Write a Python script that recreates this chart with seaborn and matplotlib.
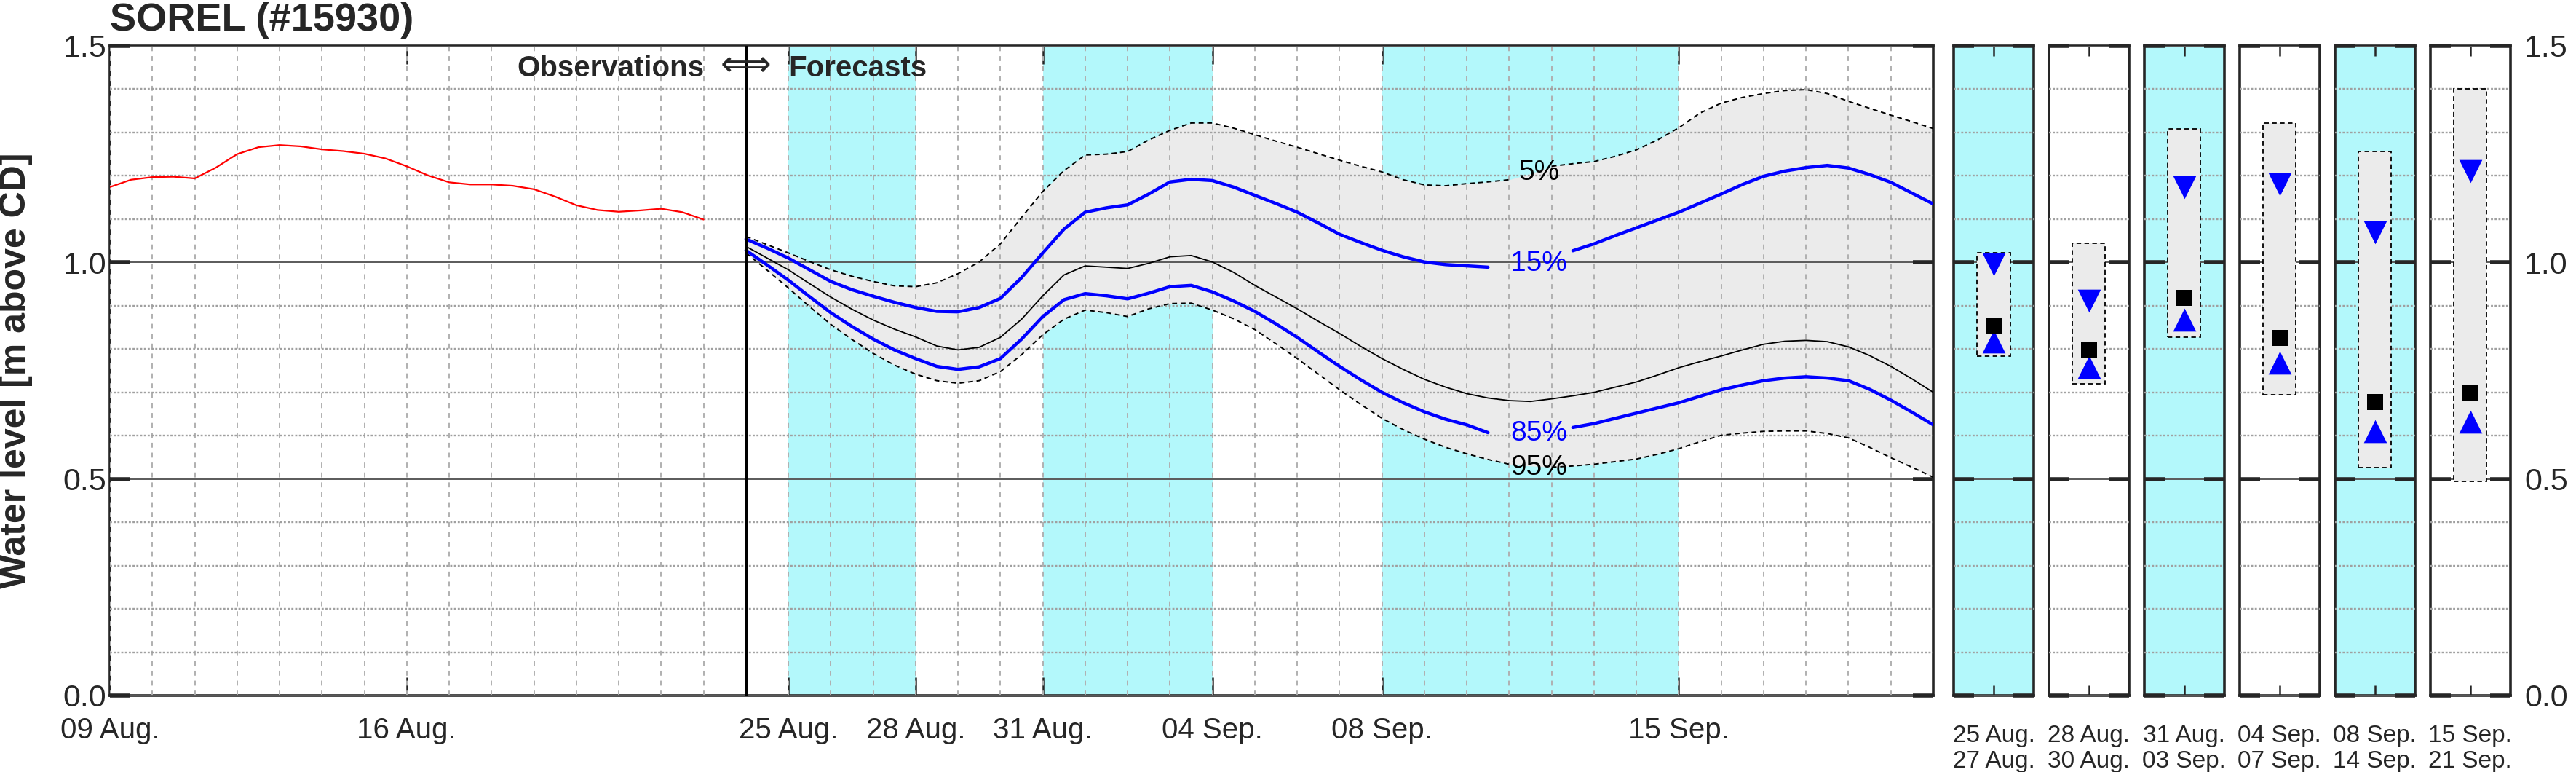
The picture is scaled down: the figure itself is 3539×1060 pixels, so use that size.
import numpy as np
import matplotlib
matplotlib.use("Agg")
import matplotlib.pyplot as plt
import seaborn as sns

# Station SOREL (#15930) - water level observations and ensemble forecast
# x axis in days since 09 Aug.

# Observations (every half day, 09 Aug. -> 23 Aug.)
obs_days = np.arange(0, 14.5, 0.5)
obs_level = [1.174, 1.191, 1.197, 1.198, 1.194, 1.219, 1.250, 1.266, 1.271, 1.268,
             1.261, 1.257, 1.251, 1.240, 1.222, 1.201, 1.185, 1.180, 1.180, 1.177,
             1.169, 1.152, 1.132, 1.121, 1.117, 1.120, 1.124, 1.116, 1.099]

# Forecast percentiles (every half day, 24 Aug. -> 21 Sep.)
fc_days = np.arange(15, 43.5, 0.5)
q05 = [1.060, 1.041, 1.022, 1.002, 0.983, 0.968, 0.956, 0.946, 0.944, 0.953,
       0.974, 1.001, 1.043, 1.104, 1.164, 1.212, 1.248, 1.250, 1.256, 1.283,
       1.305, 1.322, 1.322, 1.310, 1.295, 1.280, 1.266, 1.251, 1.236, 1.222,
       1.209, 1.191, 1.179, 1.177, 1.182, 1.186, 1.191, 1.205, 1.222, 1.228,
       1.233, 1.245, 1.260, 1.283, 1.311, 1.345, 1.368, 1.381, 1.390, 1.397,
       1.399, 1.390, 1.372, 1.356, 1.340, 1.325, 1.309]
q15 = [1.054, 1.033, 1.010, 0.983, 0.956, 0.937, 0.922, 0.908, 0.896, 0.887,
       0.886, 0.896, 0.917, 0.965, 1.022, 1.077, 1.116, 1.126, 1.133, 1.158,
       1.186, 1.192, 1.189, 1.174, 1.155, 1.136, 1.116, 1.091, 1.065, 1.046,
       1.028, 1.013, 1.001, 0.995, 0.992, 0.989, np.nan, np.nan, np.nan, 1.027,
       1.043, 1.062, 1.080, 1.098, 1.116, 1.137, 1.158, 1.180, 1.199, 1.211,
       1.219, 1.224, 1.218, 1.203, 1.185, 1.160, 1.135]
q50 = [1.037, 1.010, 0.983, 0.951, 0.920, 0.892, 0.867, 0.846, 0.828, 0.807,
       0.798, 0.804, 0.827, 0.869, 0.923, 0.971, 0.992, 0.989, 0.986, 0.998,
       1.013, 1.016, 1.001, 0.977, 0.947, 0.920, 0.893, 0.864, 0.836, 0.806,
       0.778, 0.753, 0.730, 0.712, 0.697, 0.687, 0.681, 0.679, 0.685, 0.692,
       0.700, 0.712, 0.724, 0.740, 0.757, 0.771, 0.784, 0.798, 0.811, 0.818,
       0.820, 0.817, 0.805, 0.785, 0.760, 0.731, 0.700]
q85 = [1.028, 0.994, 0.959, 0.921, 0.884, 0.852, 0.823, 0.798, 0.778, 0.760,
       0.753, 0.759, 0.778, 0.823, 0.875, 0.914, 0.928, 0.923, 0.916, 0.929,
       0.944, 0.947, 0.932, 0.911, 0.887, 0.858, 0.827, 0.793, 0.760, 0.729,
       0.700, 0.676, 0.655, 0.638, 0.625, 0.607, np.nan, np.nan, np.nan, 0.619,
       0.628, 0.640, 0.652, 0.664, 0.676, 0.691, 0.706, 0.717, 0.727, 0.733,
       0.736, 0.733, 0.727, 0.707, 0.682, 0.654, 0.625]
q95 = [1.022, 0.982, 0.941, 0.898, 0.857, 0.822, 0.790, 0.763, 0.742, 0.727,
       0.721, 0.727, 0.748, 0.787, 0.833, 0.869, 0.890, 0.884, 0.875, 0.893,
       0.905, 0.906, 0.890, 0.870, 0.845, 0.812, 0.778, 0.742, 0.706, 0.672,
       0.640, 0.614, 0.592, 0.573, 0.558, 0.545, 0.534, 0.530, 0.527, 0.530,
       0.534, 0.540, 0.546, 0.557, 0.570, 0.586, 0.601, 0.606, 0.610, 0.611,
       0.611, 0.605, 0.595, 0.573, 0.549, 0.527, 0.504]

tick_days = [0, 7, 16, 19, 22, 26, 30, 37]
tick_labels = ['09 Aug.', '16 Aug.', '25 Aug.', '28 Aug.', '31 Aug.', '04 Sep.', '08 Sep.', '15 Sep.']
forecast_start = 15
shade_bands = [(16, 19), (22, 26), (30, 37)]

# Summary windows (right panels)
win_start = ['25 Aug.', '28 Aug.', '31 Aug.', '04 Sep.', '08 Sep.', '15 Sep.']
win_end = ['27 Aug.', '30 Aug.', '03 Sep.', '07 Sep.', '14 Sep.', '21 Sep.']
win_q05 = [1.023, 1.044, 1.309, 1.321, 1.257, 1.400]
win_q15 = [0.995, 0.912, 1.173, 1.180, 1.070, 1.211]
win_q50 = [0.852, 0.797, 0.918, 0.826, 0.677, 0.698]
win_q85 = [0.818, 0.759, 0.867, 0.769, 0.610, 0.632]
win_q95 = [0.784, 0.720, 0.828, 0.695, 0.526, 0.494]
win_shaded = [True, False, True, False, True, False]

# Styles
CYAN = '#b3f8fb'
FILL = '#ebebeb'
DARK = '#262626'
BLUE = '#0000ff'
yticks_major = [0, 0.5, 1.0, 1.5]
yticks_minor = [0.1, 0.2, 0.3, 0.4, 0.6, 0.7, 0.8, 0.9, 1.1, 1.2, 1.3, 1.4]

sns.set_style('white')
plt.rcParams['font.family'] = ['Liberation Sans', 'DejaVu Sans']

W, H = 3539, 1060
fig = plt.figure(figsize=(W / 100, H / 100), dpi=100)


def px_axes(left, top, right, bottom):
    return fig.add_axes([left / W, 1 - bottom / H, (right - left) / W, (bottom - top) / H])


def draw_line(ax, x, y, **kw):
    # seaborn drops NaN, so draw each continuous piece on its own
    x = np.asarray(x, float)
    y = np.asarray(y, float)
    ok = ~np.isnan(y)
    seg = np.cumsum(~ok)
    for s in np.unique(seg[ok]):
        m = ok & (seg == s)
        sns.lineplot(x=x[m], y=y[m], ax=ax, sort=False, estimator=None, **kw)


def style_frame(ax):
    for sp in ax.spines.values():
        sp.set_color(DARK)
        sp.set_linewidth(2.6)
    ax.set_axisbelow(False)
    ax.set_ylim(0, 1.5)
    ax.set_yticks(yticks_major)
    ax.set_yticks(yticks_minor, minor=True)
    ax.grid(which='minor', axis='y', color='#a0a0a0', lw=1.7, linestyle=(0, (1.2, 1.0)))
    ax.grid(which='major', axis='y', color='#5a5a5a', lw=1.4)
    ax.tick_params(axis='y', which='major', direction='in', left=True, right=True,
                   length=20, width=4, color=DARK, labelsize=31, labelcolor=DARK)
    ax.tick_params(axis='y', which='minor', length=0)
    ax.set_xlabel('')
    ax.set_ylabel('')


# ---------------- main time series ----------------
ax = px_axes(151, 63, 2656, 955)
style_frame(ax)
ax.set_xlim(0, 43)
for a, b in shade_bands:
    ax.axvspan(a, b, color=CYAN, lw=0, zorder=0)
ax.fill_between(fc_days, q05, q95, color=FILL, lw=0, zorder=1)

draw_line(ax, obs_days, obs_level, color='red', lw=1.6, zorder=3)
gap = np.isclose(fc_days, 33.5)
dash = (0, (3.5, 2.5))
draw_line(ax, fc_days, np.where(gap, np.nan, q05), color='black', lw=1.4, linestyle=dash, zorder=3)
draw_line(ax, fc_days, np.where(gap, np.nan, q95), color='black', lw=1.4, linestyle=dash, zorder=3)
draw_line(ax, fc_days, q50, color='black', lw=1.3, zorder=3)
draw_line(ax, fc_days, q15, color=BLUE, lw=3.2, zorder=4)
draw_line(ax, fc_days, q85, color=BLUE, lw=3.2, zorder=4)
ax.axvline(forecast_start, color='black', lw=2.2, zorder=5)

ax.set_xlim(0, 43)
ax.set_ylim(0, 1.5)
ax.set_xticks(tick_days)
ax.set_xticklabels(tick_labels)
ax.set_xticks(range(0, 44), minor=True)
ax.xaxis.remove_overlapping_locs = False
ax.grid(which='minor', axis='x', color='#b0b0b0', lw=1.4, linestyle=(0, (3.5, 3.5)))
ax.tick_params(axis='x', which='major', direction='in', top=True, bottom=True,
               length=18, width=1.8, color=DARK, labelsize=29, labelcolor=DARK, pad=21)
ax.tick_params(axis='x', which='minor', length=0)
ax.set_xlabel('')
ax.set_ylabel('')

for txt, yv, col in [('5%', 1.207, 'black'), ('15%', 0.998, BLUE),
                     ('85%', 0.605, BLUE), ('95%', 0.526, 'black')]:
    ax.text(33.7, yv, txt, color=col, fontsize=28, ha='center', va='center', zorder=6)

ax.text(forecast_start, 1.43, '\u27fa', fontsize=35, ha='center', va='baseline',
        family=['DejaVu Sans'], zorder=6)
ax.annotate('Observations', xy=(forecast_start, 1.43), xytext=(-41, 0), textcoords='offset points',
            fontsize=29, fontweight='bold', ha='right', va='baseline', zorder=6)
ax.annotate('Forecasts', xy=(forecast_start, 1.43), xytext=(42, 0), textcoords='offset points',
            fontsize=29, fontweight='bold', ha='left', va='baseline', zorder=6)

fig.text(151 / W, 1 - 42 / H, 'SOREL (#15930)', fontsize=39, fontweight='bold',
         ha='left', va='baseline')
fig.text(22 / W, 1 - 509 / H, 'Water level [m above CD]', fontsize=36, fontweight='bold',
         rotation=90, ha='center', va='center', color=DARK)

# ---------------- summary panels ----------------
for i in range(len(win_start)):
    left = 2684 + i * 130.9
    pax = px_axes(left, 63, left + 110, 955)
    style_frame(pax)
    pax.set_facecolor(CYAN if win_shaded[i] else 'white')
    pax.set_xlim(-0.5, 0.5)
    pax.bar(0, win_q05[i] - win_q95[i], bottom=win_q95[i], width=0.41, color=FILL,
            edgecolor='black', linestyle=(0, (3.5, 2.5)), linewidth=1.3, zorder=3)
    pax.scatter([0], [win_q15[i]], marker='v', s=520, color=BLUE, lw=0, zorder=4)
    pax.scatter([0], [win_q85[i]], marker='^', s=520, color=BLUE, lw=0, zorder=4)
    pax.scatter([0], [win_q50[i]], marker='s', s=240, color='black', lw=0, zorder=5)
    pax.set_xticks([0])
    pax.set_xticklabels([win_start[i] + '\n' + win_end[i]], linespacing=1.15)
    pax.tick_params(axis='x', direction='in', top=True, bottom=True, length=10, width=1.8,
                    color=DARK, labelsize=24, labelcolor=DARK, pad=29)
    last = i == len(win_start) - 1
    pax.tick_params(axis='y', which='major', labelleft=False, labelright=last, pad=14)

fig.savefig('out.png', dpi=100)
